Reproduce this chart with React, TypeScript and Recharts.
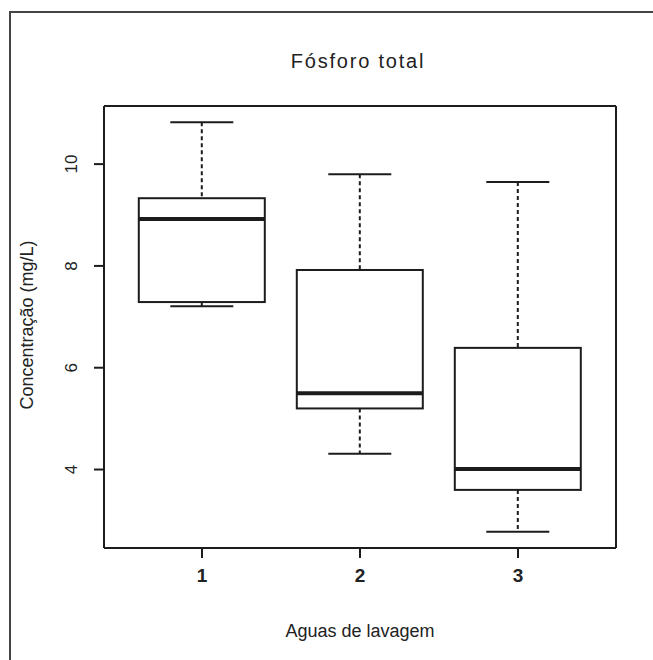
import { ComposedChart, Bar, XAxis, YAxis, Label, CartesianGrid } from 'recharts';

// Resumo dos boxplots (fósforo total, mg/L) por água de lavagem
const grupos = ['1', '2', '3'];
const minimo = [7.21, 4.31, 2.78];
const quartil1 = [7.29, 5.2, 3.6];
const mediana = [8.92, 5.5, 4.01];
const quartil3 = [9.33, 7.92, 6.39];
const maximo = [10.82, 9.8, 9.65];
const yTicks = [4, 6, 8, 10];

const FONT = '"Liberation Sans", Arial, sans-serif';
const INK = '#1c1c1c';
const TEXT = '#222';

const data = grupos.map((g, i) => ({
  grupo: g,
  faixa: [minimo[i], maximo[i]],
  min: minimo[i],
  q1: quartil1[i],
  med: mediana[i],
  q3: quartil3[i],
  max: maximo[i],
}));

// eixo y como no R: faixa dos dados ampliada 4% de cada lado
const lo = Math.min(...minimo);
const hi = Math.max(...maximo);
const yDomain: [number, number] = [lo - 0.04 * (hi - lo), hi + 0.04 * (hi - lo)];

function BoxShape(props: any) {
  const { x, y, width, height, payload } = props;
  const top = Math.min(y, y + height);
  const bottom = Math.max(y, y + height);
  const py = (v: number) => bottom - ((v - payload.min) / (payload.max - payload.min)) * (bottom - top);
  const cx = x + width / 2;
  const cap = width / 4;
  return (
    <g>
      <line x1={cx} x2={cx} y1={py(payload.max)} y2={py(payload.q3)} stroke={INK} strokeWidth={2} strokeDasharray="4 3" />
      <line x1={cx} x2={cx} y1={py(payload.q1)} y2={py(payload.min)} stroke={INK} strokeWidth={2} strokeDasharray="4 3" />
      <line x1={cx - cap} x2={cx + cap} y1={py(payload.max)} y2={py(payload.max)} stroke={INK} strokeWidth={2} />
      <line x1={cx - cap} x2={cx + cap} y1={py(payload.min)} y2={py(payload.min)} stroke={INK} strokeWidth={2} />
      <rect x={x} y={py(payload.q3)} width={width} height={py(payload.q1) - py(payload.q3)} fill="#fff" stroke={INK} strokeWidth={2} />
      <line x1={x} x2={x + width} y1={py(payload.med)} y2={py(payload.med)} stroke={INK} strokeWidth={4} />
    </g>
  );
}

const YTick = ({ x, y, payload }: any) => (
  <text x={x} y={y} transform={`rotate(-90 ${x} ${y})`} textAnchor="middle" fontSize={17} fill={TEXT} fontFamily={FONT}>
    {payload.value}
  </text>
);

const XTick = ({ x, y, payload }: any) => (
  <text x={x} y={y} textAnchor="middle" fontSize={19} fontWeight="bold" fill={TEXT} fontFamily={FONT}>
    {payload.value}
  </text>
);

const Titulo = ({ viewBox }: any) => (
  <text x={viewBox.x + viewBox.width / 2 - 2} y={68} textAnchor="middle" fontSize={20} letterSpacing={1.8} fill={TEXT} fontFamily={FONT}>
    Fósforo total
  </text>
);

const RotuloX = ({ viewBox }: any) => (
  <text x={viewBox.x + viewBox.width / 2} y={viewBox.y + 89} textAnchor="middle" fontSize={18} fill={TEXT} fontFamily={FONT}>
    Aguas de lavagem
  </text>
);

const RotuloY = ({ viewBox }: any) => {
  const cx = 33;
  const cy = viewBox.y + viewBox.height / 2 - 2;
  return (
    <text x={cx} y={cy} transform={`rotate(-90 ${cx} ${cy})`} textAnchor="middle" fontSize={18} fill={TEXT} fontFamily={FONT}>
      Concentração (mg/L)
    </text>
  );
};

// moldura da área de plotagem: linhas nas bordas
const bordasH = ({ offset }: any) => [offset.top, offset.top + offset.height];
const bordasV = ({ offset }: any) => [offset.left, offset.left + offset.width];

export default function App() {
  const line = { stroke: INK, strokeWidth: 2 };
  return (
    <div style={{ position: 'absolute', left: 0, top: 0, width: 653, height: 660, overflow: 'hidden', background: '#fff' }}>
      <div
        style={{
          position: 'absolute',
          left: 9,
          top: 11,
          width: 700,
          height: 700,
          borderLeft: '2px solid #444',
          borderTop: '2px solid #444',
        }}
      />
      <div style={{ position: 'absolute', left: 0, top: 0 }}>
        <ComposedChart width={653} height={660} data={data} margin={{ top: 106, right: 37, bottom: 52, left: 44 }} barCategoryGap="10%">
          <CartesianGrid
            stroke={INK}
            strokeWidth={2}
            fill="none"
            horizontalCoordinatesGenerator={bordasH}
            verticalCoordinatesGenerator={bordasV}
          />
          <XAxis
            dataKey="grupo"
            height={60}
            padding={{ left: 19, right: 19 }}
            axisLine={line}
            tickLine={line}
            tickSize={10}
            tickMargin={24}
            tick={<XTick />}
          >
            <Label content={<RotuloX />} />
            <Label content={<Titulo />} />
          </XAxis>
          <YAxis
            width={60}
            domain={yDomain}
            ticks={yTicks}
            axisLine={line}
            tickLine={line}
            tickSize={10}
            tickMargin={17}
            tick={<YTick />}
          >
            <Label content={<RotuloY />} />
          </YAxis>
          <Bar dataKey="faixa" fill="none" shape={<BoxShape />} isAnimationActive={false} />
        </ComposedChart>
      </div>
    </div>
  );
}
